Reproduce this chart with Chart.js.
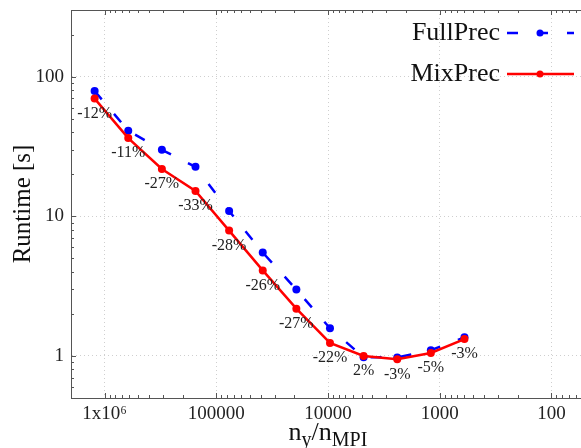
<!DOCTYPE html>
<html lang="en">
<head>
<script src="https://cdn.jsdelivr.net/npm/chart.js@4.4.0/dist/chart.umd.min.js"></script>
<style>
  body { margin: 0; overflow: hidden; background: #fff; }
  #wrap { width: 600px; height: 448px; }
</style>
</head>
<body>
<div id="wrap"><canvas id="myChart" width="600" height="448"></canvas></div>
<script>
// n_y / n_MPI (each step halves)
var nRatio = [1228800, 614400, 307200, 153600, 76800, 38400, 19200, 9600, 4800, 2400, 1200, 600];
var fullPrec = [79, 41, 29.9, 22.6, 10.9, 5.5, 2.99, 1.58, 0.98, 0.975, 1.1, 1.36];
var mixPrec = [69.6, 36.3, 21.8, 15.2, 7.9, 4.1, 2.18, 1.24, 1.0, 0.946, 1.05, 1.32];
var pctLabels = ["-12%", "-11%", "-27%", "-33%", "-28%", "-26%", "-27%", "-22%", "2%", "-3%", "-5%", "-3%"];
var xTicks = [1e6, 1e5, 1e4, 1e3, 1e2];
var yTicks = [1, 10, 100];

var SERIF = "'Liberation Serif', 'DejaVu Serif', serif";
var AXIS = "#555";

function pts(ys) {
  return nRatio.map(function (x, i) { return { x: x, y: ys[i] }; });
}

// inward tick marks (major + minor), top border line
var frame = {
  id: 'frame',
  afterDatasetsDraw: function (chart) {
    var ctx = chart.ctx, a = chart.chartArea;
    var xs = chart.scales.x, ys = chart.scales.y;
    ctx.save();
    ctx.strokeStyle = AXIS;
    ctx.lineWidth = 1;
    ctx.beginPath();
    ctx.moveTo(a.left, Math.round(a.top) + 0.5);
    ctx.lineTo(a.right, Math.round(a.top) + 0.5);
    ctx.stroke();
    for (var e = -1; e <= 6; e++) {
      for (var m = 1; m <= 9; m++) {
        var v = m * Math.pow(10, e);
        var len = m === 1 ? 5 : 3;
        if (v >= xs.min && v <= xs.max) {
          var px = Math.round(xs.getPixelForValue(v)) + 0.5;
          ctx.beginPath();
          ctx.moveTo(px, a.bottom); ctx.lineTo(px, a.bottom - len);
          ctx.moveTo(px, a.top); ctx.lineTo(px, a.top + len);
          ctx.stroke();
        }
        if (v >= ys.min && v <= ys.max) {
          var py = Math.round(ys.getPixelForValue(v)) + 0.5;
          ctx.beginPath();
          ctx.moveTo(a.left, py); ctx.lineTo(a.left + len, py);
          ctx.stroke();
        }
      }
    }
    ctx.restore();
  },
  afterDraw: function (chart) {
    var ctx = chart.ctx, a = chart.chartArea;
    ctx.save();
    // percentage labels under MixPrec points
    var meta = chart.getDatasetMeta(1);
    ctx.fillStyle = "#222";
    ctx.font = "16px " + SERIF;
    ctx.textAlign = "center";
    ctx.textBaseline = "middle";
    meta.data.forEach(function (el, i) {
      ctx.fillText(pctLabels[i], el.x, el.y + 15);
    });

    // legend: text then line sample
    var rows = [0, 1].map(function (i) { return chart.data.datasets[i]; });
    ctx.font = "26px " + SERIF;
    ctx.textAlign = "right";
    ctx.textBaseline = "middle";
    rows.forEach(function (ds, i) {
      var y = 33 + i * 41;
      ctx.fillStyle = "#111";
      ctx.fillText(ds.label, 500, y);
      ctx.strokeStyle = ds.borderColor;
      ctx.lineWidth = ds.borderWidth;
      ctx.setLineDash(ds.borderDash || []);
      ctx.beginPath();
      ctx.moveTo(507, y); ctx.lineTo(574, y);
      ctx.stroke();
      ctx.setLineDash([]);
      ctx.fillStyle = ds.pointBackgroundColor;
      ctx.beginPath();
      ctx.arc(540, y, 3.5, 0, Math.PI * 2);
      ctx.fill();
    });

    // x title with subscripts: n_y/n_MPI
    var parts = [["n", 0], ["y", 1], ["/n", 0], ["MPI", 1]];
    var big = "26px " + SERIF, small = "20px " + SERIF;
    var w = 0;
    parts.forEach(function (p) { ctx.font = p[1] ? small : big; w += ctx.measureText(p[0]).width; });
    var x = (a.left + a.right) / 2 - w / 2;
    ctx.textAlign = "left";
    ctx.textBaseline = "alphabetic";
    ctx.fillStyle = "#111";
    parts.forEach(function (p) {
      ctx.font = p[1] ? small : big;
      ctx.fillText(p[0], x, p[1] ? 446 : 440);
      x += ctx.measureText(p[0]).width;
    });
    ctx.restore();
  }
};

var ctx = document.getElementById("myChart").getContext("2d");
var myChart = new Chart(ctx, {
  type: 'line',
  data: {
    datasets: [
      {
        label: "FullPrec",
        data: pts(fullPrec),
        borderColor: "#0000ff",
        backgroundColor: "#0000ff",
        pointBackgroundColor: "#0000ff",
        borderWidth: 2.5,
        borderDash: [11, 19],
        pointRadius: 4,
        pointBorderWidth: 0,
        order: 1
      },
      {
        label: "MixPrec",
        data: pts(mixPrec),
        borderColor: "#ff0000",
        backgroundColor: "#ff0000",
        pointBackgroundColor: "#ff0000",
        borderWidth: 2.5,
        pointRadius: 4,
        pointBorderWidth: 0,
        order: 0
      }
    ]
  },
  options: {
    responsive: false,
    animation: false,
    layout: { padding: { top: 10, right: 15, left: 0, bottom: 0 } },
    plugins: { legend: { display: false }, tooltip: { enabled: false } },
    scales: {
      x: {
        type: 'logarithmic',
        reverse: true,
        min: 50,
        max: 2e6,
        afterBuildTicks: function (s) { s.ticks = xTicks.map(function (v) { return { value: v }; }); },
        afterFit: function (s) { s.height = 50; s.paddingLeft = 0; s.paddingRight = 0; },
        ticks: {
          autoSkip: false,
          maxRotation: 0,
          padding: 5,
          color: "#222",
          font: { family: SERIF, size: 19 },
          callback: function (v) { return v === 1e6 ? "1x10\u2076" : String(v); }
        },
        grid: { color: "#cfcfcf", drawTicks: false },
        border: { display: true, color: AXIS, width: 1, dash: [1, 3] }
      },
      y: {
        type: 'logarithmic',
        min: 0.5,
        max: 300,
        afterBuildTicks: function (s) { s.ticks = yTicks.map(function (v) { return { value: v }; }); },
        afterFit: function (s) { s.width = 71; s.paddingTop = 0; s.paddingBottom = 0; },
        ticks: {
          padding: 7,
          color: "#222",
          font: { family: SERIF, size: 19 },
          callback: function (v) { return String(v); }
        },
        grid: { color: "#cfcfcf", drawTicks: false },
        border: { display: true, color: AXIS, width: 1, dash: [1, 3] },
        title: {
          display: true,
          text: "Runtime [s]",
          color: "#111",
          font: { family: SERIF, size: 25 },
          padding: { top: 8, bottom: 0 }
        }
      }
    }
  },
  plugins: [frame]
});
</script>
</body>
</html>
